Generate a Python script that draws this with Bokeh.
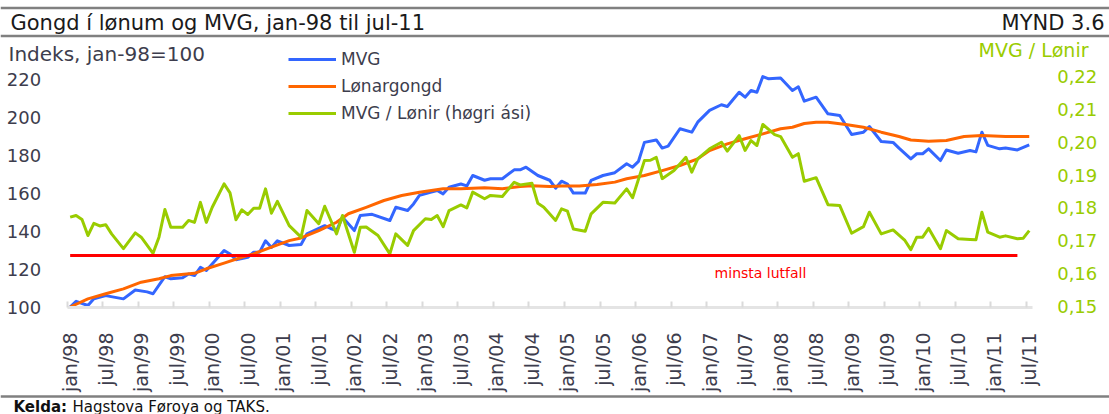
from math import pi
from bokeh.plotting import figure
from bokeh.models import Range1d, LinearAxis, FixedTicker, Label, Legend, LegendItem, Span
from bokeh.embed import file_html
from bokeh.resources import INLINE

# ---------------- data ----------------
title_text = "Gongd í lønum og MVG, jan-98 til jul-11"
figure_no = "MYND 3.6"
left_title = "Indeks, jan-98=100"
right_title = "MVG / Lønir"
source_bold = "Kelda:"
source_text = "Hagstova Føroya og TAKS."
min_label = "minsta lutfall"
series_names = ["MVG", "Lønargongd", "MVG / Lønir (høgri ási)"]

# month index 0 = jan/98 ... 162 = jul/11
tick_months = list(range(0, 163, 6))
tick_labels = ["jan/98", "jul/98", "jan/99", "jul/99", "jan/00", "jul/00", "jan/01", "jul/01",
               "jan/02", "jul/02", "jan/03", "jul/03", "jan/04", "jul/04", "jan/05", "jul/05",
               "jan/06", "jul/06", "jan/07", "jul/07", "jan/08", "jul/08", "jan/09", "jul/09",
               "jan/10", "jul/10", "jan/11", "jul/11"]
left_ticks = [100, 120, 140, 160, 180, 200, 220]
right_ticks = [0.15, 0.16, 0.17, 0.18, 0.19, 0.20, 0.21, 0.22]
right_tick_labels = ["0,15", "0,16", "0,17", "0,18", "0,19", "0,20", "0,21", "0,22"]

mvg_month = [0, 1, 3, 4, 6, 9, 11, 13, 14, 16, 17, 19, 20, 21, 22, 23, 25, 26, 27, 28,
             30, 31, 32, 33, 34, 35, 37, 39, 40, 43, 44, 45, 46, 48, 49, 51, 54, 55, 57, 58,
             59, 61, 62, 63, 64, 66, 67, 68, 70, 71, 73, 75, 76, 77, 79, 81, 82, 83, 84, 85,
             87, 88, 90, 92, 94, 95, 96, 97, 99, 100, 101, 103, 105, 106, 108, 110, 111, 113, 114, 115,
             116, 117, 118, 120, 122, 123, 124, 126, 128, 130, 132, 134, 135, 137, 139, 140, 142, 143, 144, 145,
             147, 148, 150, 152, 153, 154, 155, 157, 158, 160, 162]
mvg_value = [100, 103, 100.8, 104.3, 106, 104.3, 109, 108, 107, 116, 114.9, 115.5, 117.5, 116.6, 121, 119.3, 126.3, 129.9, 128, 125,
             126.3, 129, 129, 135, 131.5, 135, 132.5, 133, 138.7, 143, 141.5, 140.4, 147.5, 140.4, 148.4, 149, 145.7, 152.7, 151, 154.5,
             159, 160.7, 161.6, 159.8, 163.3, 165, 164, 169.5, 167, 167.8, 167.8, 172.5, 172.5, 173.9, 169.5, 167, 162.8, 166.5, 165, 160.2,
             160.2, 166.9, 169.5, 171, 175.7, 173.9, 177, 187, 188.3, 184, 185, 194.2, 192.4, 197.7, 203.9, 206.9, 206, 213.5, 210.9, 214.4,
             213.5, 221.8, 220.6, 221, 214.4, 216.4, 208.8, 210.9, 202.1, 201.2, 191.2, 192.4, 195.4, 187.5, 187, 184, 178.3, 181, 181, 183.6,
             177.4, 183, 181.3, 182.7, 182, 192.4, 185.4, 183.6, 184, 183, 185.7]

lon_month = [0, 3, 6, 9, 12, 15, 17, 21, 23, 26, 29, 31, 34, 37, 39, 42, 45, 47, 50, 53,
             56, 59, 63, 66, 70, 73, 76, 78, 81, 83, 86, 89, 92, 94, 97, 100, 103, 106, 108, 111,
             114, 117, 120, 122, 124, 126, 128, 131, 134, 137, 140, 142, 145, 148, 151, 154, 158, 162]
lon_value = [100, 104.3, 107, 109.6, 113.1, 114.9, 116.6, 117.8, 120.2, 123.2, 126.3, 128.1, 131.6, 135.1, 136.5, 140.4, 144.8, 149.3, 152.7, 156.3,
             158.9, 160.7, 162.5, 162.5, 163, 162.5, 163.7, 164.1, 163.7, 164, 164, 164.7, 166, 167.8, 169.5, 172.1, 174.8, 178.3, 182.7, 186.2,
             188.9, 191.5, 194.2, 195, 197, 197.7, 197.7, 196.5, 195, 192.4, 190.1, 188.3, 187.6, 188, 190.1, 190.6, 190.1, 190.1]

ratio_month = [0, 1, 2, 3, 4, 5, 6, 7, 9, 11, 12, 14, 15, 16, 17, 19, 20, 21, 22, 23,
               24, 26, 27, 28, 29, 30, 31, 32, 33, 34, 35, 37, 39, 40, 42, 43, 45, 46, 48, 49,
               50, 52, 54, 55, 57, 58, 60, 61, 62, 63, 64, 66, 67, 68, 70, 71, 73, 75, 76, 78,
               79, 80, 82, 83, 84, 85, 87, 88, 90, 92, 94, 95, 97, 98, 99, 100, 102, 104, 105, 106,
               108, 110, 111, 113, 114, 115, 116, 117, 119, 120, 122, 123, 124, 126, 128, 130, 132, 134, 135, 137,
               139, 141, 142, 143, 144, 145, 147, 148, 150, 152, 153, 154, 155, 157, 158, 160, 161, 162]
ratio_value = [0.1772, 0.1777, 0.1765, 0.1716, 0.1753, 0.1745, 0.1749, 0.1721, 0.1676, 0.1724, 0.1711, 0.1662, 0.1711, 0.1795, 0.1741, 0.1741, 0.1762, 0.1756, 0.1817, 0.1756,
               0.1802, 0.1873, 0.1846, 0.1764, 0.1794, 0.1780, 0.1799, 0.1799, 0.1858, 0.1784, 0.1820, 0.1746, 0.1711, 0.1792, 0.1752, 0.1805, 0.1721, 0.1777, 0.1665, 0.1741,
               0.1742, 0.1716, 0.1660, 0.1721, 0.1686, 0.1731, 0.1767, 0.1765, 0.1777, 0.1743, 0.1792, 0.1809, 0.1800, 0.1848, 0.1828, 0.1838, 0.1835, 0.1878, 0.1870, 0.1875,
               0.1814, 0.1802, 0.1762, 0.1797, 0.1790, 0.1736, 0.1729, 0.1782, 0.1817, 0.1815, 0.1858, 0.1831, 0.1944, 0.1945, 0.1954, 0.1889, 0.1914, 0.1954, 0.1909, 0.1949,
               0.1980, 0.2000, 0.1973, 0.2020, 0.1975, 0.2005, 0.1990, 0.2054, 0.2023, 0.2017, 0.1954, 0.1965, 0.1881, 0.1892, 0.1810, 0.1807, 0.1723, 0.1743, 0.1787, 0.1721,
               0.1733, 0.1701, 0.1673, 0.1711, 0.1711, 0.1738, 0.1676, 0.1731, 0.1706, 0.1704, 0.1703, 0.1787, 0.1726, 0.1711, 0.1715, 0.1706, 0.1708, 0.1731]

min_ratio = 0.1655
min_line_months = [0, 160]

# ---------------- geometry / styling ----------------
W, H = 1109, 414
PX_X = 965 / 163            # px per month
X0 = -0.5 - 66.7 / PX_X
X1 = X0 + W / PX_X
PX_Y = 1.892                # px per index point
Y_TOP = 100 + 306.5 / PX_Y
Y_BOT = Y_TOP - H / PX_Y
PX_R = 3286                 # px per ratio unit
R_TOP = 0.15 + 306 / PX_R
R_BOT = R_TOP - H / PX_R


def px2x(px):
    return X0 + px / PX_X


def py2y(py):
    return Y_TOP - py / PX_Y


FONT = "DejaVu Sans"
TXT = "#3d3d4d"
GREY = "#808080"
BLUE, ORANGE, GREEN, RED = "#3366ff", "#ff6600", "#99cc00", "#ff0000"

p = figure(width=W, height=H, x_range=Range1d(X0, X1), y_range=Range1d(Y_BOT, Y_TOP),
           output_backend="svg", toolbar_location=None, min_border=0)
p.title.visible = False
p.extra_y_ranges = {"right": Range1d(R_BOT, R_TOP)}
p.outline_line_color = None
p.xgrid.visible = False
p.ygrid.visible = False

xa = p.xaxis[0]
xa.fixed_location = 100 - 0.5 / PX_Y
xa.bounds = (-0.5, 162.5)
xa.ticker = FixedTicker(ticks=tick_months, minor_ticks=[m - 0.5 for m in tick_months])
xa.major_label_overrides = dict(zip(tick_months, tick_labels))
xa.major_label_orientation = pi / 2
xa.major_tick_line_color = None
xa.minor_tick_in = 6
xa.minor_tick_out = 0
xa.minor_tick_line_color = "#dadada"
xa.minor_tick_line_width = 2
xa.axis_line_color = "#e4e4e4"
xa.axis_line_width = 3
xa.major_label_text_font = FONT
xa.major_label_text_font_size = "19px"
xa.major_label_text_color = TXT
xa.major_label_standoff = 19

ya = p.yaxis[0]
ya.fixed_location = -0.5
ya.ticker = FixedTicker(ticks=left_ticks)
ya.major_tick_line_color = None
ya.minor_tick_line_color = None
ya.axis_line_color = None
ya.major_label_text_font = FONT
ya.major_label_text_font_size = "18px"
ya.major_label_text_color = TXT
ya.major_label_standoff = 20

ra = LinearAxis(y_range_name="right", fixed_location=162.5, ticker=FixedTicker(ticks=right_ticks),
                major_label_overrides=dict(zip(right_ticks, right_tick_labels)))
ra.major_tick_line_color = None
ra.minor_tick_line_color = None
ra.axis_line_color = None
ra.major_label_text_font = FONT
ra.major_label_text_font_size = "18px"
ra.major_label_text_color = GREEN
ra.major_label_standoff = 19
p.add_layout(ra, "right")

r_mvg = p.line(mvg_month, mvg_value, line_color=BLUE, line_width=3, line_join="round")
r_lon = p.line(lon_month, lon_value, line_color=ORANGE, line_width=3, line_join="round")
r_rat = p.line(ratio_month, ratio_value, line_color=GREEN, line_width=3, line_join="round",
               y_range_name="right")
p.line(min_line_months, [min_ratio] * len(min_line_months), line_color=RED, line_width=3,
       y_range_name="right")

legend = Legend(items=[LegendItem(label=series_names[0], renderers=[r_mvg]),
                       LegendItem(label=series_names[1], renderers=[r_lon]),
                       LegendItem(label=series_names[2], renderers=[r_rat])],
                location=(288, H - 123), glyph_width=48, glyph_height=20, label_height=20,
                spacing=7, padding=0, margin=0, border_line_color=None,
                background_fill_alpha=0, label_standoff=5,
                label_text_font=FONT, label_text_font_size="17px", label_text_color=TXT)
p.add_layout(legend)

# rules of the frame (header / footer)
for py, lw in [(7.5, 2.5), (35.5, 2.5), (396, 2.5)]:
    p.add_layout(Span(location=py2y(py), dimension="width", line_color=GREY, line_width=lw))


def add_text(text, px, py, size, color=TXT, align="left", style="normal", y_range_name="default", y=None):
    p.add_layout(Label(x=px2x(px), y=py2y(py) if y is None else y, text=text, text_align=align,
                       text_baseline="middle", text_font=FONT, text_font_size=size,
                       text_font_style=style, text_color=color, y_range_name=y_range_name))


add_text(title_text, 10, 22, "21px", color="#1a1a1a")
add_text(figure_no, 1104, 22, "21px", color="#1a1a1a", align="right")
add_text(left_title, 8, 53, "20px")
add_text(right_title, 1088, 49, "19px", color=GREEN, align="right")
add_text(min_label, 760, 272, "14px", color=RED, align="center")
add_text(source_bold, 13, 406, "15px", color="#111111", style="bold")
add_text(source_text, 72, 406, "15px", color="#111111")

open("out.html", "w").write(file_html(p, INLINE))
